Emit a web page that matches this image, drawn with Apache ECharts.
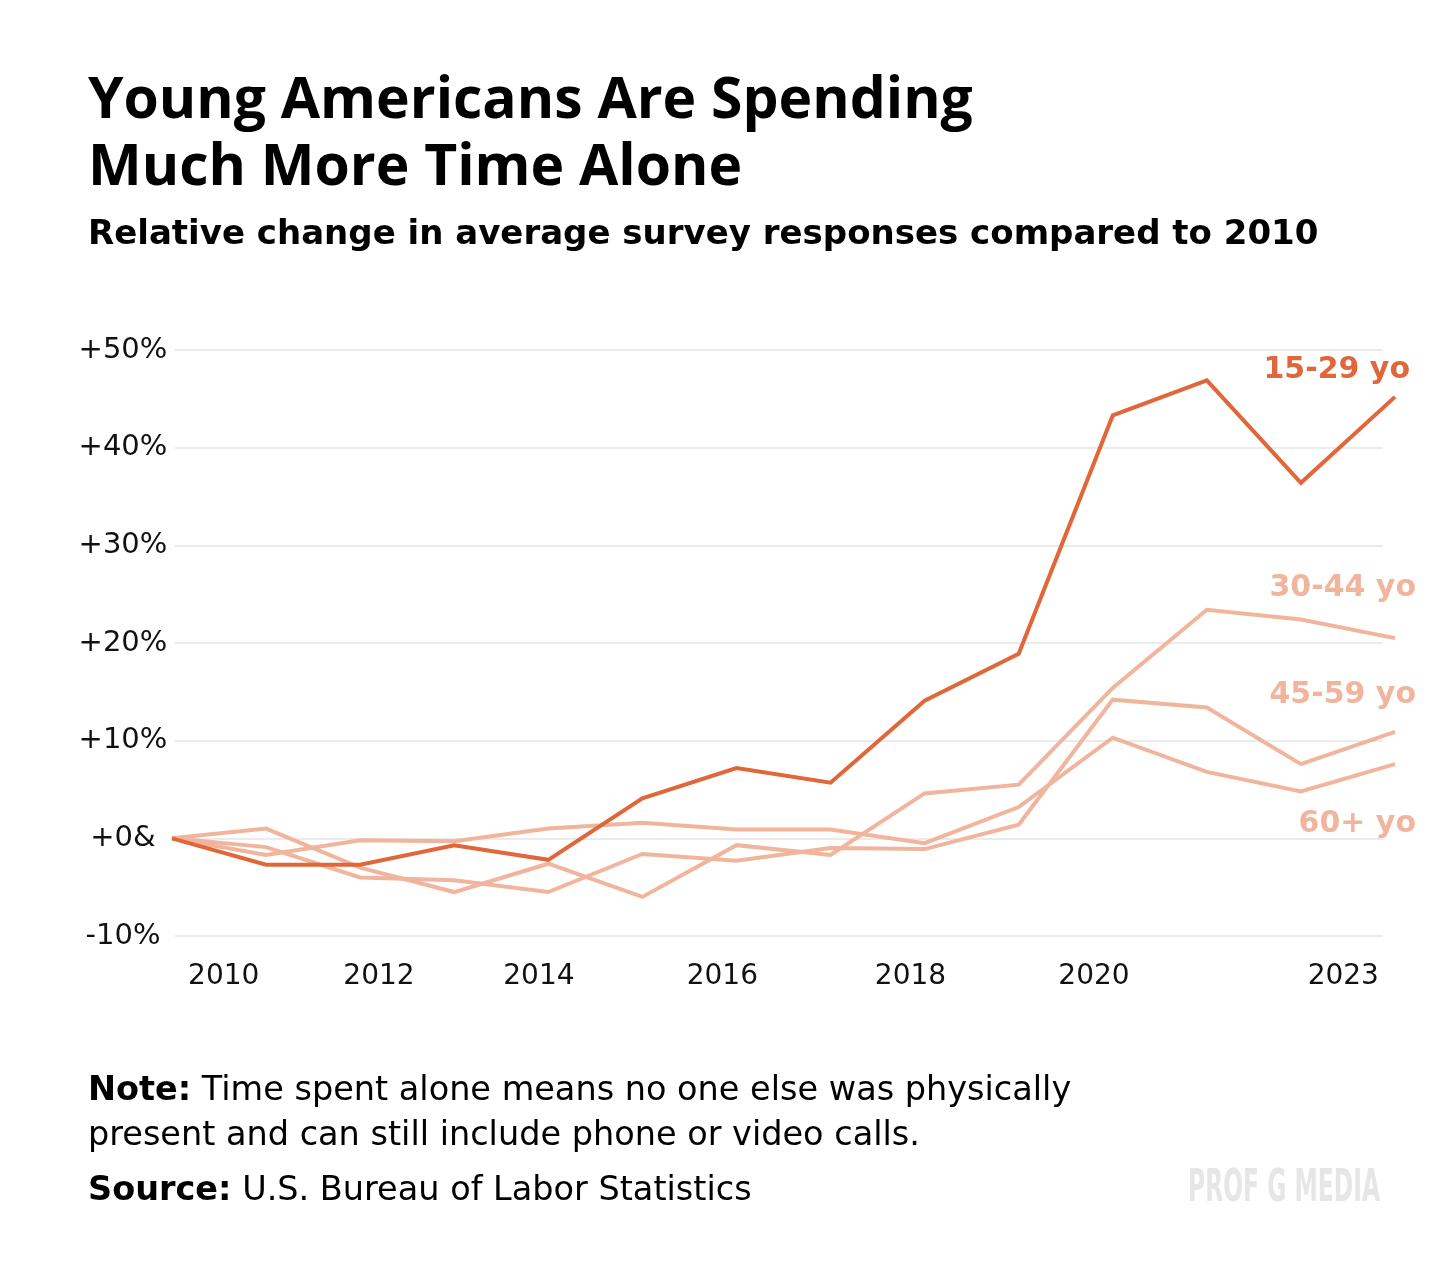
<!DOCTYPE html>
<html>
<head>
<meta charset="utf-8">
<style>
  html, body { margin: 0; padding: 0; background: #ffffff; }
  #chart { width: 1456px; height: 1274px; }
</style>
<script src="https://cdn.jsdelivr.net/npm/echarts@6/dist/echarts.min.js"></script>
</head>
<body>
<div id="chart"></div>
<script>
// ---- data ----
const years = ['2010','2011','2012','2013','2014','2015','2016','2017','2018','2019','2020','2021','2022','2023'];
const age15_29 = [0, -2.7, -2.7, -0.7, -2.2, 4.1, 7.2, 5.7, 14.1, 18.9, 43.3, 46.9, 36.4, 45.2];
const age30_44 = [0, 1.0, -3.0, -5.5, -2.6, -6.0, -0.7, -1.7, 4.6, 5.5, 15.4, 23.4, 22.4, 20.5];
const age45_59 = [0, -0.9, -4.0, -4.3, -5.5, -1.6, -2.3, -1.0, -1.1, 1.4, 14.2, 13.4, 7.6, 10.9];
const age60p   = [0, -1.7, -0.2, -0.3, 1.0, 1.6, 0.9, 0.9, -0.5, 3.2, 10.3, 6.8, 4.8, 7.6];
const seriesNames = ['15-29 yo', '30-44 yo', '45-59 yo', '60+ yo'];
const yTickValues = [-10, 0, 10, 20, 30, 40, 50];
const yTickLabels = ['-10%', '+0&', '+10%', '+20%', '+30%', '+40%', '+50%'];
const xTickLabels = ['2010', '2012', '2014', '2016', '2018', '2020', '2023'];
// where each year label sits along the series index axis (as printed in the original)
const xTickAt = [0.55, 2.2, 3.9, 5.85, 7.85, 9.8, 12.45];

// ---- label axis built from the tick arrays ----
const STEP = 0.05;
const fineCount = Math.round((years.length - 1) / STEP) + 1;
const fineCats = new Array(fineCount).fill('');
xTickAt.forEach((p, i) => { fineCats[Math.round(p / STEP)] = xTickLabels[i]; });

const DARK = '#E0673A';
const LIGHT = '#F0B59C';
const BODY = '"DejaVu Sans", sans-serif';
const TITLE = '"Open Sans", sans-serif';

const chart = echarts.init(document.getElementById('chart'), null, { renderer: 'canvas' });

function line(name, data, color, z) {
  return {
    name, type: 'line', data, xAxisIndex: 0, yAxisIndex: 0,
    symbol: 'none', z,
    lineStyle: { color, width: 4, join: 'miter' },
    animation: false
  };
}

chart.setOption({
  backgroundColor: '#ffffff',
  animation: false,
  grid: [
    { left: 172, right: 61, top: 350, bottom: 338 },
    { left: 175, right: 73, top: 350, bottom: 338 }
  ],
  xAxis: [
    { type: 'category', gridIndex: 0, data: years, boundaryGap: false, show: false },
    {
      type: 'category', gridIndex: 0, data: fineCats, boundaryGap: false, position: 'bottom',
      axisLine: { show: false }, axisTick: { show: false }, splitLine: { show: false },
      axisLabel: { interval: 0, margin: 27, fontSize: 28, color: '#111111', fontFamily: BODY }
    },
    { type: 'value', gridIndex: 1, show: false, min: 0, max: 1 }
  ],
  yAxis: [
    { type: 'value', gridIndex: 0, min: -10, max: 50, interval: 10, show: false },
    {
      type: 'value', gridIndex: 1, min: -10, max: 50, interval: 10,
      axisLine: { show: false }, axisTick: { show: false },
      splitLine: { show: true, lineStyle: { color: '#EBEBEB', width: 2 } },
      axisLabel: {
        margin: 52, align: 'center', fontSize: 29, color: '#111111', fontFamily: BODY,
        formatter: v => { const i = yTickValues.indexOf(Math.round(v)); return i >= 0 ? yTickLabels[i] : ''; }
      }
    }
  ],
  series: [
    line(seriesNames[3], age60p, LIGHT, 2),
    line(seriesNames[2], age45_59, LIGHT, 3),
    line(seriesNames[1], age30_44, LIGHT, 4),
    line(seriesNames[0], age15_29, DARK, 5)
  ],
  graphic: [
    { type: 'text', left: 88, top: 73, style: { text: 'Young Americans Are Spending', font: 'bold 57px ' + TITLE, fill: '#000000' } },
    { type: 'text', left: 88, top: 140, style: { text: 'Much More Time Alone', font: 'bold 57px ' + TITLE, fill: '#000000' } },
    { type: 'text', left: 88, top: 218, style: { text: 'Relative change in average survey responses compared to 2010', font: 'bold 34px ' + BODY, fill: '#000000' } },

    { type: 'text', right: 46, top: 355, style: { text: seriesNames[0], font: 'bold 30px ' + BODY, fill: DARK } },
    { type: 'text', right: 40, top: 573, style: { text: seriesNames[1], font: 'bold 30px ' + BODY, fill: LIGHT } },
    { type: 'text', right: 40, top: 680, style: { text: seriesNames[2], font: 'bold 30px ' + BODY, fill: LIGHT } },
    { type: 'text', right: 40, top: 809, style: { text: seriesNames[3], font: 'bold 30px ' + BODY, fill: LIGHT } },

    { type: 'text', left: 88, top: 1074, style: {
        text: '{b|Note:} Time spent alone means no one else was physically',
        font: '33.5px ' + BODY, fill: '#000000',
        rich: { b: { font: 'bold 33.5px ' + BODY, fill: '#000000' } } } },
    { type: 'text', left: 88, top: 1119, style: { text: 'present and can still include phone or video calls.', font: '33.5px ' + BODY, fill: '#000000' } },
    { type: 'text', left: 88, top: 1174, style: {
        text: '{b|Source:} U.S. Bureau of Labor Statistics',
        font: '33.5px ' + BODY, fill: '#000000',
        rich: { b: { font: 'bold 33.5px ' + BODY, fill: '#000000' } } } },
    { type: 'text', x: 1188, y: 1167, scaleX: 0.52, style: { text: 'PROF G MEDIA', font: 'bold 45px ' + BODY, fill: '#E6E6E6' } }
  ]
});
</script>
</body>
</html>
